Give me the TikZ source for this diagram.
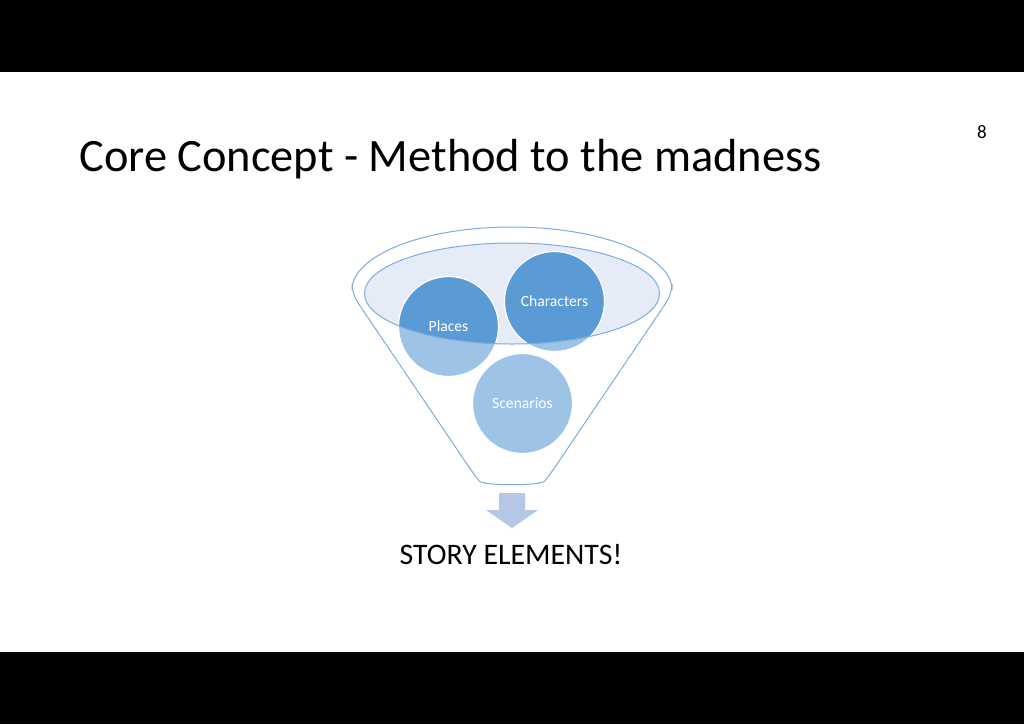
\documentclass[tikz,border=0pt]{standalone}
\usepackage{fontspec}
\setmainfont{Carlito}
\usepackage{xcolor}
\usetikzlibrary{positioning,calc}
\definecolor{bubbledark}{RGB}{91, 155, 213}
\definecolor{bubblelight}{RGB}{157, 195, 230}
\definecolor{rimfill}{RGB}{229, 236, 247}
\definecolor{rimline}{RGB}{125, 172, 222}
\definecolor{arrowfill}{RGB}{180, 199, 231}

\begin{document}
\begin{tikzpicture}[
    x=0.5pt, y=-0.5pt,
    outline/.style={draw=rimline, line width=0.5pt},
    bubble/.style={circle, draw=white, line width=0.6pt, minimum size=50pt, inner sep=0pt},
    bubbletext/.style={text=white, font=\fontsize{7.8}{9}\selectfont},
    label/.style={inner sep=0pt, text=black}
]
    \useasboundingbox (0,0) rectangle (1024,724);
    \fill[white] (0,0) rectangle (1024,724);
    \fill[black] (0,0) rectangle (1024,72);
    \fill[black] (0,652) rectangle (1024,724);

    % Title and page number
    \node[label, anchor=west, font=\fontsize{23.2}{27}\selectfont] (title) at (79,159) {Core Concept - Method to the madness};
    \node[label, font=\fontsize{9.5}{11}\selectfont] (pagenum) at (982,132) {8};

    % Funnel
    \coordinate (rim) at (512,293.5);
    \coordinate (places) at (448.5,326.5);
    \coordinate (characters) at (554.5,301.5);
    \coordinate (scenarios) at (522.5,403.5);

    \draw[outline] (352,290) arc[start angle=180, end angle=360, x radius=160, y radius=63]
        [rounded corners=5] -- (672,294) -- (551,473) .. controls (541,486) and (483,486) .. (473,473)
        -- (352,294) [sharp corners] -- cycle;
    \fill[rimfill] (rim) ellipse[x radius=147.5, y radius=50.5];

    \fill[bubblelight] (places) circle[radius=50];
    \fill[bubblelight] (characters) circle[radius=50];
    \fill[bubblelight] (scenarios) circle[radius=50];
    \begin{scope}
        \clip (rim) ellipse[x radius=147.5, y radius=50.5];
        \fill[bubbledark] (places) circle[radius=50];
        \fill[bubbledark] (characters) circle[radius=50];
    \end{scope}

    \node[bubble] (placesnode) at (places) {};
    \node[bubble] (charactersnode) at (characters) {};
    \node[bubble] (scenariosnode) at (scenarios) {};
    \draw[outline] (rim) ellipse[x radius=147.5, y radius=50.5];

    \node[bubbletext] at (placesnode) {Places};
    \node[bubbletext] at (charactersnode) {Characters};
    \node[bubbletext] at (scenariosnode) {Scenarios};

    % Arrow down to the result
    \fill[arrowfill] (499,493) -- (525,493) -- (525,510) -- (538,510) -- (512,528)
        -- (486,510) -- (499,510) -- cycle;
    \node[label, font=\fontsize{14.9}{17}\selectfont] (result) at (511,555) {STORY ELEMENTS!};
\end{tikzpicture}
\end{document}
